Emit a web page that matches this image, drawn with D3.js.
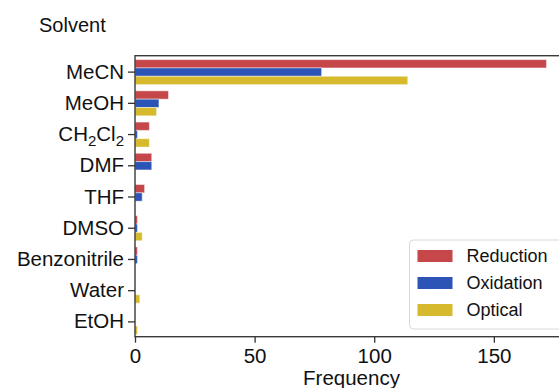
<!DOCTYPE html>
<html>
<head>
<meta charset="utf-8">
<script src="https://cdn.jsdelivr.net/npm/d3@7"></script>
<style>
  body { margin: 0; background: #fff; }
  svg { display: block; font-family: "Liberation Sans", Arial, sans-serif; }
</style>
</head>
<body>
<svg id="chart"></svg>
<script>
// Data
const solvents = ["MeCN", "MeOH", "CH2Cl2", "DMF", "THF", "DMSO", "Benzonitrile", "Water", "EtOH"];
const reduction = [172, 14, 6, 7, 4, 1, 1, 0, 0];
const oxidation = [78, 10, 1, 7, 3, 1, 1, 0, 0];
const optical = [114, 9, 6, 0, 0, 3, 0, 2, 1];
const seriesNames = ["Reduction", "Oxidation", "Optical"];
const seriesColors = ["#c6474a", "#2b54b6", "#d6b92c"];
const xTicks = [0, 50, 100, 150];

const width = 559, height = 388;
const plotLeft = 135, plotRight = 568, plotTop = 55.7, plotBottom = 336.7;

const svg = d3.select("#chart").attr("width", width).attr("height", height);

// Scales
const x = d3.scaleLinear().domain([0, 181]).range([plotLeft, plotRight]);
const y = d3.scaleBand().domain(solvents).range([56.5, 337.5]).padding(0);
const ySub = d3.scaleBand().domain(seriesNames).range([0, y.bandwidth()]).paddingOuter(0.375).paddingInner(0);

const rows = solvents.map((s, i) => ({
    solvent: s,
    values: [reduction[i], oxidation[i], optical[i]]
}));

// Bars
const groups = svg.append("g")
    .selectAll("g")
    .data(rows)
    .enter()
    .append("g")
    .attr("transform", d => `translate(0, ${y(d.solvent)})`);

groups.selectAll("rect")
    .data(d => d.values
        .map((v, j) => ({ name: seriesNames[j], value: v, color: seriesColors[j] }))
        .filter(b => b.value > 0))
    .enter()
    .append("rect")
    .attr("x", x(0))
    .attr("y", d => ySub(d.name))
    .attr("width", d => x(d.value) - x(0))
    .attr("height", ySub.bandwidth())
    .attr("fill", d => d.color)
    .attr("stroke", "#fff")
    .attr("stroke-opacity", 0.45)
    .attr("stroke-width", 1);

// Frame (spines)
svg.append("rect")
    .attr("x", plotLeft)
    .attr("y", plotTop)
    .attr("width", plotRight - plotLeft)
    .attr("height", plotBottom - plotTop)
    .attr("fill", "none")
    .attr("stroke", "#3a3a3a")
    .attr("stroke-width", 1.4);

// Y axis
const yAxis = svg.append("g")
    .attr("transform", `translate(${plotLeft}, 0)`)
    .call(d3.axisLeft(y).tickSize(7).tickPadding(4).tickSizeOuter(0));
yAxis.select(".domain").remove();
yAxis.selectAll(".tick line").attr("stroke", "#333").attr("stroke-width", 1.3);
yAxis.selectAll(".tick text")
    .style("font-size", "20.5px")
    .attr("fill", "#111")
    .each(function (d) {
        if (d === "CH2Cl2") {
            const t = d3.select(this).text("");
            t.append("tspan").text("CH");
            t.append("tspan").text("2").style("font-size", "15px").attr("dy", "5");
            t.append("tspan").text("Cl").attr("dy", "-5");
            t.append("tspan").text("2").style("font-size", "15px").attr("dy", "5");
        }
    });

// X axis
const xAxis = svg.append("g")
    .attr("transform", `translate(0, ${plotBottom})`)
    .call(d3.axisBottom(x).tickValues(xTicks).tickSize(6).tickPadding(6).tickSizeOuter(0));
xAxis.select(".domain").remove();
xAxis.selectAll(".tick line").attr("stroke", "#333").attr("stroke-width", 1.3);
xAxis.selectAll(".tick text").style("font-size", "20.5px").attr("fill", "#111");

// Axis titles
svg.append("text")
    .attr("x", (plotLeft + plotRight) / 2)
    .attr("y", 385)
    .attr("text-anchor", "middle")
    .style("font-size", "20.5px")
    .attr("fill", "#111")
    .text("Frequency");

svg.append("text")
    .attr("x", 39)
    .attr("y", 32)
    .style("font-size", "20px")
    .attr("fill", "#111")
    .text("Solvent");

// Legend
const legend = svg.append("g").attr("transform", "translate(409.5, 240)");
legend.append("rect")
    .attr("width", 160)
    .attr("height", 89)
    .attr("rx", 4)
    .attr("fill", "#fff")
    .attr("fill-opacity", 0.85)
    .attr("stroke", "#d8d8d8");

legend.selectAll(".legend-item")
    .data(seriesNames)
    .enter()
    .append("g")
    .attr("class", "legend-item")
    .attr("transform", (d, i) => `translate(8, ${10 + i * 27})`)
    .each(function (d, i) {
        d3.select(this).append("rect")
            .attr("width", 35)
            .attr("height", 12)
            .attr("fill", seriesColors[i]);
        d3.select(this).append("text")
            .attr("x", 49)
            .attr("y", 12)
            .style("font-size", "18px")
            .attr("fill", "#111")
            .text(d);
    });
</script>
</body>
</html>
